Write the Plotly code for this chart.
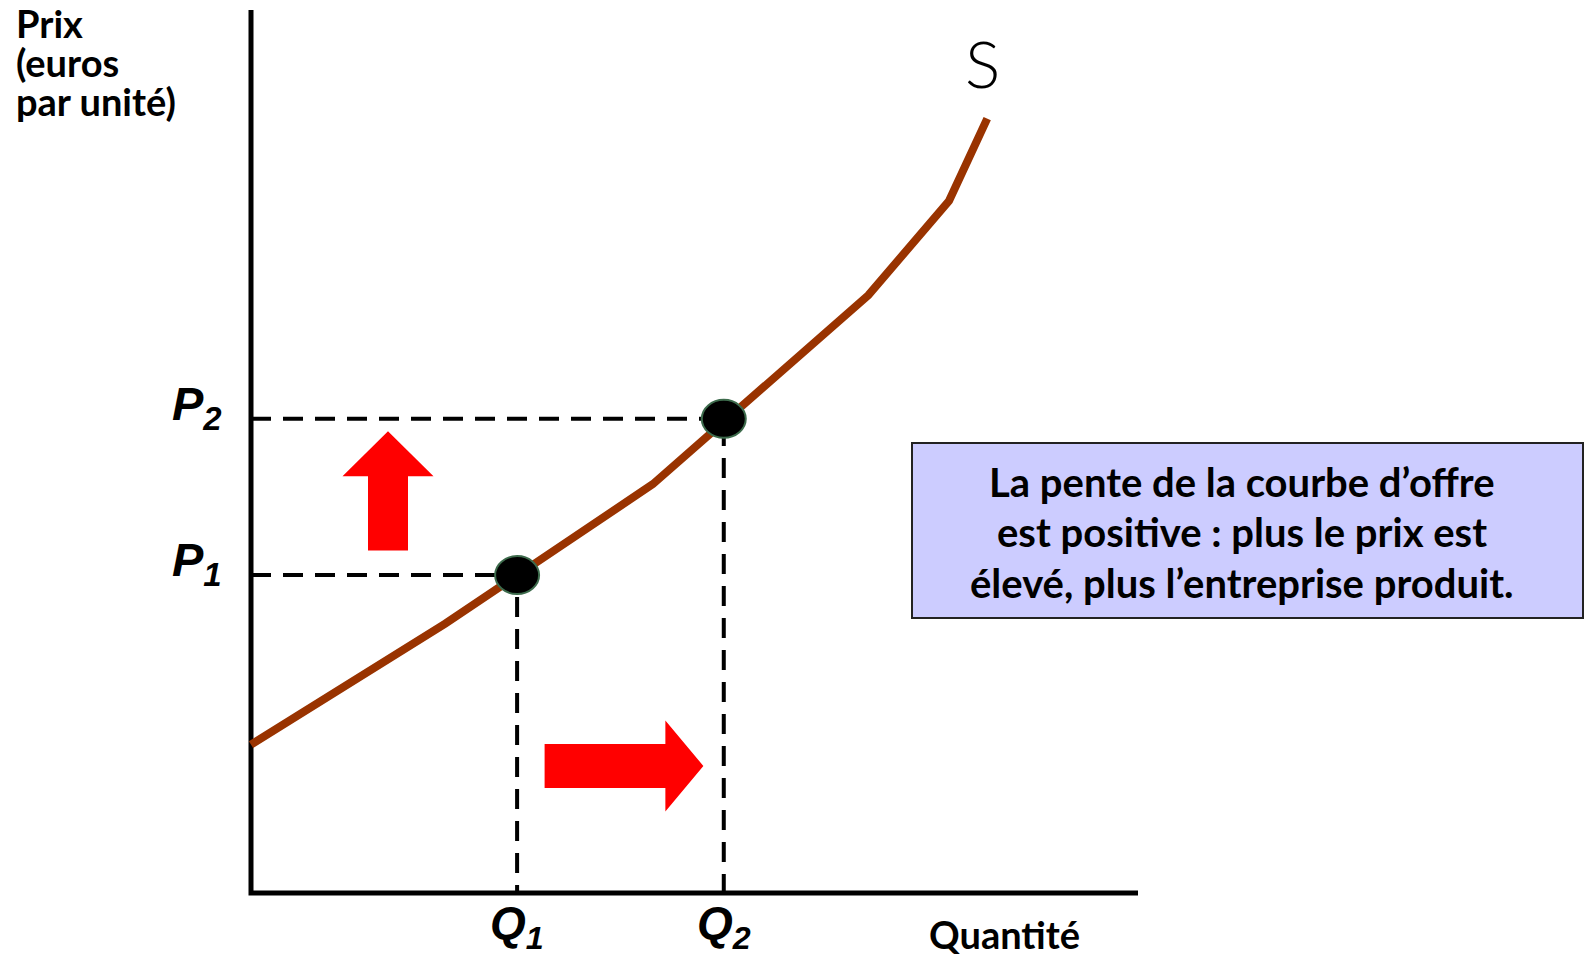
import plotly.graph_objects as go

# courbe d'offre S : (quantité, prix)
offre_q = [0.0, 2.19, 4.53, 6.96, 7.87, 8.30]
offre_p = [1.68, 3.05, 4.63, 6.77, 7.84, 8.77]

# les deux points sur la courbe
quantites = [3.0, 5.33]
prix = [3.6, 5.37]
labels_q = ["Q<sub>1</sub>", "Q<sub>2</sub>"]
labels_p = ["P<sub>1</sub>", "P<sub>2</sub>"]

axe_max = 10

titre_y = ["Prix", "(euros", "par unité)"]
titre_x = "Quantité"
texte_boite = [
    "La pente de la courbe d’offre",
    "est positive : plus le prix est",
    "élevé, plus l’entreprise produit.",
]

# mise en page (pixels)
W, H = 1587, 956
ORIG_X, ORIG_Y = 251, 893
PX_Q, PX_P = 88.7, 88.3

POLICE = "Lato, Carlito, sans-serif"
POLICE_PQ = "Liberation Sans, Arial, sans-serif"


def q_px(px):
    return (px - ORIG_X) / PX_Q


def p_px(py):
    return (ORIG_Y - py) / PX_P


def fleche(q0, p0, q1, p1, corps, tete, long_tete):
    """flèche pleine de (q0,p0) vers (q1,p1), tailles en pixels"""
    x0, y0 = ORIG_X + q0 * PX_Q, ORIG_Y - p0 * PX_P
    x1, y1 = ORIG_X + q1 * PX_Q, ORIG_Y - p1 * PX_P
    dx, dy = x1 - x0, y1 - y0
    n = (dx**2 + dy**2) ** 0.5
    ux, uy = dx / n, dy / n
    nx, ny = -uy, ux
    bx, by = x1 - ux * long_tete, y1 - uy * long_tete
    pts = [
        (x0 + nx * corps / 2, y0 + ny * corps / 2),
        (bx + nx * corps / 2, by + ny * corps / 2),
        (bx + nx * tete / 2, by + ny * tete / 2),
        (x1, y1),
        (bx - nx * tete / 2, by - ny * tete / 2),
        (bx - nx * corps / 2, by - ny * corps / 2),
        (x0 - nx * corps / 2, y0 - ny * corps / 2),
    ]
    d = [f"{q_px(x):.4f},{p_px(y):.4f}" for x, y in pts]
    return "M " + " L ".join(d) + " Z"


fig = go.Figure()

# pointillés vers les axes
for q, p in zip(quantites, prix):
    fig.add_trace(
        go.Scatter(
            x=[0, q, q],
            y=[p, p, 0],
            mode="lines",
            line=dict(color="black", width=4, dash="20px,12px"),
            hoverinfo="skip",
        )
    )

# axes
fig.add_trace(
    go.Scatter(
        x=[0, 0, axe_max],
        y=[axe_max, 0, 0],
        mode="lines",
        line=dict(color="black", width=5),
        hoverinfo="skip",
    )
)

# courbe S
fig.add_trace(
    go.Scatter(
        x=offre_q,
        y=offre_p,
        mode="lines",
        line=dict(color="#993300", width=8),
        name="S",
    )
)

shapes = []
# points (ellipses)
for q, p in zip(quantites, prix):
    shapes.append(
        dict(
            type="circle",
            xref="x",
            yref="y",
            x0=q - 22 / PX_Q,
            x1=q + 22 / PX_Q,
            y0=p - 19 / PX_P,
            y1=p + 19 / PX_P,
            fillcolor="black",
            line=dict(color="#3d6b4c", width=2),
        )
    )

# flèches rouges
shapes.append(
    dict(
        type="path",
        path=fleche(q_px(388), prix[0] + 0.28, q_px(388), prix[1] - 0.14, 40, 91, 45),
        fillcolor="red",
        line=dict(width=0),
    )
)
shapes.append(
    dict(
        type="path",
        path=fleche(quantites[0] + 0.31, p_px(766), quantites[1] - 0.23, p_px(766), 44, 91, 38),
        fillcolor="red",
        line=dict(width=0),
    )
)

# boîte de texte
shapes.append(
    dict(
        type="rect",
        xref="x",
        yref="y",
        x0=q_px(912),
        x1=q_px(1583),
        y0=p_px(618),
        y1=p_px(443),
        fillcolor="#ccccff",
        line=dict(color="#222222", width=2),
    )
)

annotations = []
for ligne, py in zip(texte_boite, [482, 532, 583]):
    annotations.append(
        dict(
            x=q_px(1242),
            y=p_px(py),
            text=f"<b>{ligne}</b>",
            showarrow=False,
            xanchor="center",
            yanchor="middle",
            font=dict(family=POLICE, size=40, color="black"),
        )
    )

for ligne, py in zip(titre_y, [23, 62, 101]):
    annotations.append(
        dict(
            x=q_px(14),
            y=p_px(py),
            text=f"<b>{ligne}</b>",
            showarrow=False,
            xanchor="left",
            yanchor="middle",
            font=dict(family=POLICE, size=38, color="black"),
        )
    )

annotations.append(
    dict(
        x=q_px(1004),
        y=p_px(934),
        text=f"<b>{titre_x}</b>",
        showarrow=False,
        xanchor="center",
        yanchor="middle",
        font=dict(family=POLICE, size=38, color="black"),
    )
)

annotations.append(
    dict(
        x=q_px(982),
        y=p_px(62),
        text="S",
        showarrow=False,
        xanchor="center",
        yanchor="middle",
        font=dict(family=POLICE, size=66, color="black", weight=300),
    )
)

for q, lab in zip(quantites, labels_q):
    annotations.append(
        dict(
            x=q,
            y=0,
            text=f"<b><i>{lab}</i></b>",
            showarrow=False,
            xanchor="center",
            yanchor="top",
            yshift=-2,
            font=dict(family=POLICE_PQ, size=46, color="black"),
        )
    )

for p, lab in zip(prix, labels_p):
    annotations.append(
        dict(
            x=q_px(224),
            y=p,
            text=f"<b><i>{lab}</i></b>",
            showarrow=False,
            xanchor="right",
            yanchor="middle",
            yshift=12,
            font=dict(family=POLICE_PQ, size=47, color="black"),
        )
    )

fig.update_layout(
    width=W,
    height=H,
    margin=dict(l=0, r=0, t=0, b=0),
    paper_bgcolor="white",
    plot_bgcolor="white",
    showlegend=False,
    shapes=shapes,
    annotations=annotations,
    xaxis=dict(range=[-ORIG_X / PX_Q, (W - ORIG_X) / PX_Q], visible=False, fixedrange=True),
    yaxis=dict(range=[-(H - ORIG_Y) / PX_P, ORIG_Y / PX_P], visible=False, fixedrange=True),
)

# pas de marge autour du graphique dans la page
fig.write_html(
    "out.html",
    config={"displayModeBar": False},
    post_script="document.body.style.margin='0px';document.body.style.overflow='hidden';",
)
